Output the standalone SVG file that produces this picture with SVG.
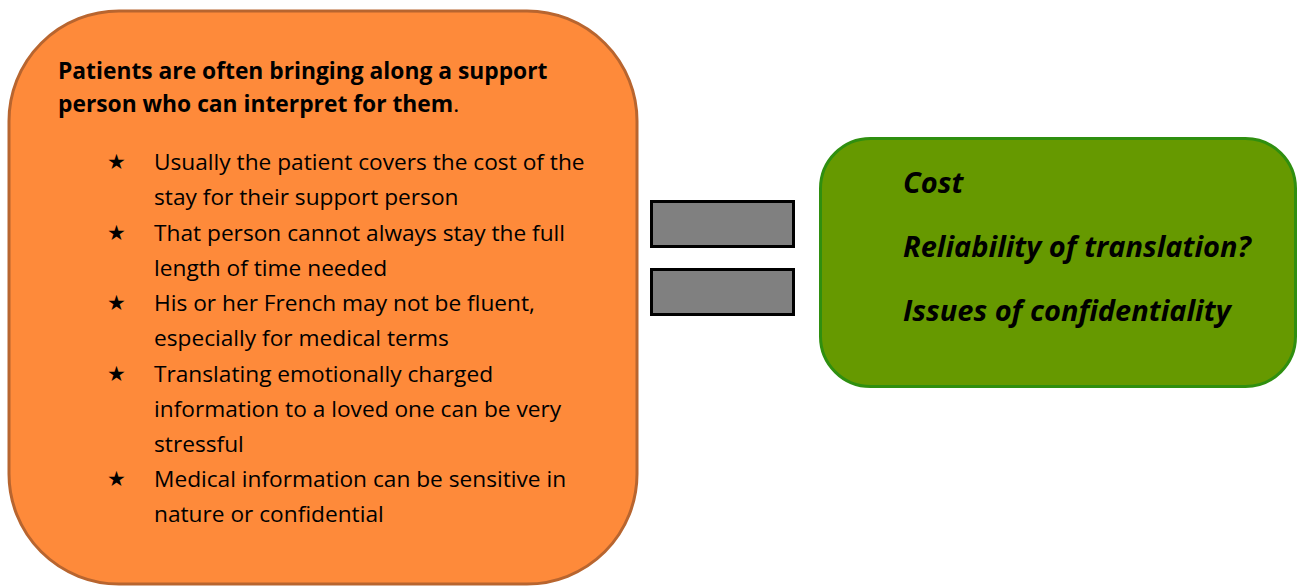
<svg xmlns="http://www.w3.org/2000/svg" width="1298" height="586" viewBox="0 0 1298 586">
<style>
.t{font-family:"Open Sans","Noto Sans",sans-serif;font-size:22.7px;fill:#000}
.h{font-weight:bold;font-size:22.8px}
.s{font-family:"DejaVu Sans",sans-serif;font-size:21px;fill:#000}
.g{font-family:"Open Sans","Noto Sans",sans-serif;font-size:29px;font-weight:bold;font-style:italic;fill:#000}
.bar{fill:#808080;stroke:#000;stroke-width:3}
</style>
<rect width="1298" height="586" fill="#fff"/>
<g id="left">
<rect x="9" y="11" width="628" height="573" rx="110" ry="110" fill="#fe8a3a" stroke="#b8652f" stroke-width="3"/>
<text class="t h" x="58" y="79">Patients are often bringing along a support</text>
<text class="t" x="58" y="112"><tspan class="h">person who can interpret for them</tspan>.</text>
<g class="s">
<text x="107" y="169">★</text>
<text x="107" y="240">★</text>
<text x="107" y="310">★</text>
<text x="107" y="381">★</text>
<text x="107" y="486">★</text>
</g>
<g class="t">
<text x="154" y="170">Usually the patient covers the cost of the</text>
<text x="154" y="205">stay for their support person</text>
<text x="154" y="241">That person cannot always stay the full</text>
<text x="154" y="276">length of time needed</text>
<text x="154" y="311">His or her French may not be fluent,</text>
<text x="154" y="346">especially for medical terms</text>
<text x="154" y="382">Translating emotionally charged</text>
<text x="154" y="417">information to a loved one can be very</text>
<text x="154" y="452">stressful</text>
<text x="154" y="487">Medical information can be sensitive in</text>
<text x="154" y="522">nature or confidential</text>
</g>
</g>
<g id="equals">
<rect class="bar" x="651.5" y="201.5" width="142" height="45"/>
<rect class="bar" x="651.5" y="269.5" width="142" height="45"/>
</g>
<g id="right">
<rect x="820.5" y="138.5" width="475" height="248" rx="50" ry="50" fill="#669900" stroke="#2f8f0f" stroke-width="3"/>
<text class="g" x="903" y="193">Cost</text>
<text class="g" x="903" y="257">Reliability of translation?</text>
<text class="g" x="903" y="321">Issues of confidentiality</text>
</g>
<g id="connectors"></g>
</svg>
